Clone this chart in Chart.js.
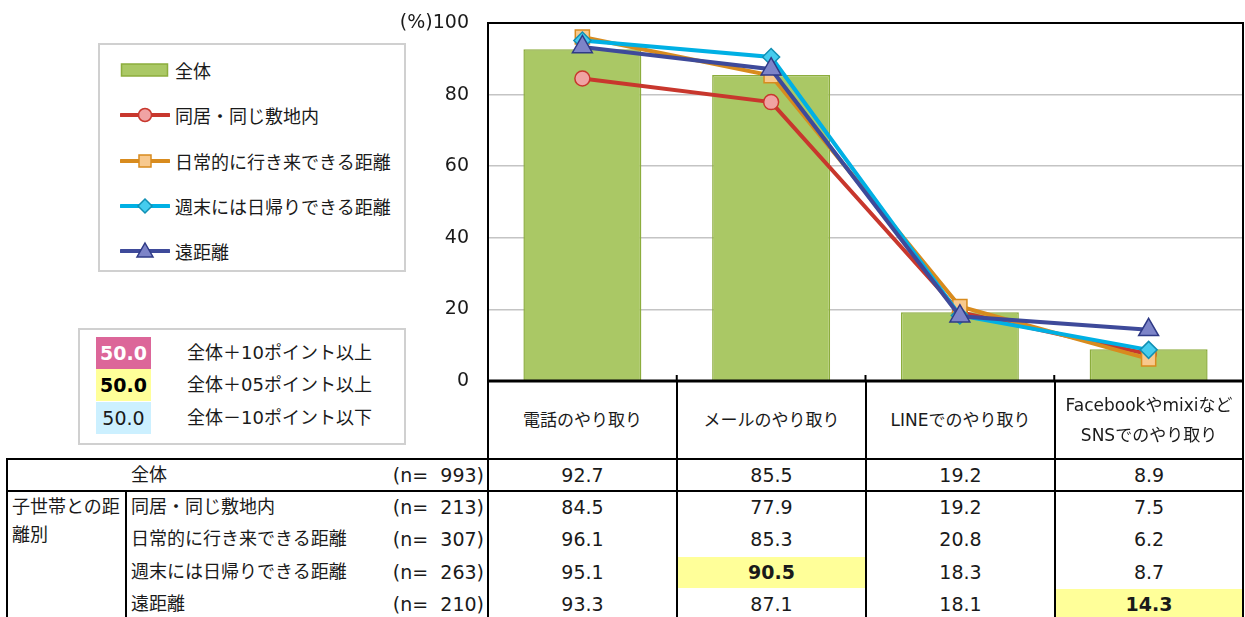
<!DOCTYPE html>
<html lang="ja">
<head>
<meta charset="utf-8">
<script src="https://cdn.jsdelivr.net/npm/chart.js@4.4.1/dist/chart.umd.min.js"></script>
<style>
  html, body { margin: 0; padding: 0; background: #fff; }
  body { width: 1245px; height: 617px; position: relative; overflow: hidden;
         font-family: "DejaVu Sans", "Noto Sans CJK JP", sans-serif; color: #1a1a1a; }
  #chart-wrap { position: absolute; left: 0; top: 0; width: 1245px; height: 400px; }
  .abs { position: absolute; }
  .ln { position: absolute; background: #000; }
  .jp { font-size: 18px; white-space: nowrap; }
  .num { font-size: 19px; white-space: pre; }
  .box { position: absolute; border: 2px solid #d0d0d0; box-sizing: border-box; background: #fff; }
  .leg-row { position: absolute; left: 20px; height: 24px; display: flex; align-items: center; }
  .leg-row span { margin-left: 5px; font-size: 18px; }
  .key { position: absolute; left: 16px; width: 55px; height: 32px; line-height: 32px; text-align: center; font-size: 19px; }
  .key-txt { position: absolute; left: 107px; font-size: 18px; line-height: 32px; white-space: nowrap; }
</style>
</head>
<body>
<div id="chart-wrap"><canvas id="chart-usage"></canvas></div>
<div id="overlay"></div>
<script>
const categories = ['電話のやり取り', 'メールのやり取り', 'LINEでのやり取り', ['Facebookやmixiなど', 'SNSでのやり取り']];
const seriesLabels = ['全体', '同居・同じ敷地内', '日常的に行き来できる距離', '週末には日帰りできる距離', '遠距離'];
const nValues = [993, 213, 307, 263, 210];
const overall = [92.7, 85.5, 19.2, 8.9];
const sameSite = [84.5, 77.9, 19.2, 7.5];
const dailyVisit = [96.1, 85.3, 20.8, 6.2];
const weekendTrip = [95.1, 90.5, 18.3, 8.7];
const farAway = [93.3, 87.1, 18.1, 14.3];
const yTicks = [0, 20, 40, 60, 80, 100];

const styles = [
    { line: '#C8372D', fill: '#F0A3A3', edge: '#C8372D', point: 'circle', radius: 7.5 },
    { line: '#D88B1E', fill: '#F8C98E', edge: '#D88B1E', point: 'rect', radius: 10 },
    { line: '#00B0E4', fill: '#45CCEE', edge: '#1190B4', point: 'rectRot', radius: 8.5 },
    { line: '#3E4A9A', fill: '#7D84C8', edge: '#2F3A86', point: 'triangle', radius: 11.5 },
];
const barFill = '#AAC865';
const barEdge = '#8CAD3D';
const lineSeries = [sameSite, dailyVisit, weekendTrip, farAway];

const framePlugin = {
    id: 'frame',
    afterDatasetsDraw(chart) {
        const { ctx, chartArea: a, scales } = chart;
        const y0 = scales.y.getPixelForValue(0);
        ctx.save();
        ctx.strokeStyle = '#000';
        ctx.lineWidth = 2;
        ctx.beginPath();
        ctx.moveTo(a.left - 1, a.top);
        ctx.lineTo(a.right, a.top);
        ctx.lineTo(a.right, y0);
        ctx.stroke();
        ctx.lineWidth = 3;
        ctx.beginPath();
        ctx.moveTo(a.left - 1, y0);
        ctx.lineTo(a.right + 1, y0);
        ctx.stroke();
        ctx.lineWidth = 2;
        for (let i = 0; i < categories.length - 1; i++) {
            const xb = (scales.x.getPixelForValue(i) + scales.x.getPixelForValue(i + 1)) / 2;
            ctx.beginPath();
            ctx.moveTo(xb, y0 - 6);
            ctx.lineTo(xb, y0);
            ctx.stroke();
        }
        ctx.restore();
    },
};

const datasets = lineSeries.map((data, i) => ({
    type: 'line',
    label: seriesLabels[i + 1],
    data,
    borderColor: styles[i].line,
    borderWidth: 4,
    tension: 0,
    pointStyle: styles[i].point,
    pointRadius: styles[i].radius,
    pointBackgroundColor: styles[i].fill,
    pointBorderColor: styles[i].edge,
    pointBorderWidth: 1.5,
    order: 4 - i,
}));
datasets.push({
    type: 'bar',
    label: seriesLabels[0],
    data: overall,
    backgroundColor: barFill,
    borderColor: barEdge,
    borderWidth: 1.5,
    barPercentage: 0.625,
    categoryPercentage: 1,
    order: 5,
});

new Chart(document.getElementById('chart-usage'), {
    type: 'bar',
    data: { labels: categories, datasets },
    options: {
        responsive: true,
        maintainAspectRatio: false,
        animation: false,
        layout: { autoPadding: false, padding: { top: 23, right: 2, bottom: 19, left: 0 } },
        plugins: { legend: { display: false }, tooltip: { enabled: false } },
        scales: {
            x: { display: false },
            y: {
                min: 0,
                max: 100,
                afterBuildTicks: (scale) => { scale.ticks = yTicks.map((v) => ({ value: v })); },
                afterFit: (scale) => { scale.width = 488; },
                ticks: {
                    padding: 0,
                    color: '#1a1a1a',
                    font: { family: 'DejaVu Sans', size: 19 },
                    callback: (v) => (v === 100 ? '(%)100' : v),
                },
                grid: {
                    drawTicks: true,
                    tickLength: 19,
                    tickColor: 'rgba(0,0,0,0)',
                    lineWidth: 1.5,
                    color: (c) => (c.tick && (c.tick.value === 0 || c.tick.value === 100) ? 'rgba(0,0,0,0)' : '#C4C4C4'),
                },
                border: { display: true, color: '#000', width: 2 },
            },
        },
    },
    plugins: [framePlugin],
});

// ---- legend, key and table (HTML) ----
const overlay = document.getElementById('overlay');
function add(html) { overlay.insertAdjacentHTML('beforeend', html); }
function hline(x1, x2, y, w) { add(`<div class="ln" style="left:${x1}px;top:${y - w / 2}px;width:${x2 - x1}px;height:${w}px"></div>`); }
function vline(x, y1, y2, w) { add(`<div class="ln" style="left:${x - w / 2}px;top:${y1}px;width:${w}px;height:${y2 - y1}px"></div>`); }

function symbolSvg(i) {
    if (i === 0) {
        return `<svg width="50" height="24"><rect x="1.5" y="6" width="46" height="12" fill="${barFill}" stroke="${barEdge}" stroke-width="1.5"/></svg>`;
    }
    const s = styles[i - 1];
    let mark = '';
    if (s.point === 'circle') mark = `<circle cx="25" cy="12" r="6.5" fill="${s.fill}" stroke="${s.edge}" stroke-width="1.5"/>`;
    if (s.point === 'rect') mark = `<rect x="19" y="6" width="12" height="12" fill="${s.fill}" stroke="${s.edge}" stroke-width="1.5"/>`;
    if (s.point === 'rectRot') mark = `<polygon points="25,5 32,12 25,19 18,12" fill="${s.fill}" stroke="${s.edge}" stroke-width="1.5"/>`;
    if (s.point === 'triangle') mark = `<polygon points="25,4 33,18 17,18" fill="${s.fill}" stroke="${s.edge}" stroke-width="1.5"/>`;
    return `<svg width="50" height="24"><line x1="1" y1="12" x2="49" y2="12" stroke="${s.line}" stroke-width="4" stroke-linecap="round"/>${mark}</svg>`;
}

let legendHtml = '<div class="box" style="left:98px;top:43px;width:308px;height:229px">';
seriesLabels.forEach((label, i) => {
    legendHtml += `<div class="leg-row" style="top:${13 + i * 45.3}px">${symbolSvg(i)}<span>${label}</span></div>`;
});
legendHtml += '</div>';
add(legendHtml);

const keyColors = [
    { bg: '#DC6699', color: '#fff', weight: 'bold', text: '全体＋10ポイント以上' },
    { bg: '#FFFF99', color: '#000', weight: 'bold', text: '全体＋05ポイント以上' },
    { bg: '#CCF0FF', color: '#1a1a1a', weight: 'normal', text: '全体－10ポイント以下' },
];
let keyHtml = '<div class="box" style="left:78px;top:328px;width:328px;height:117px">';
keyColors.forEach((k, i) => {
    keyHtml += `<div class="key" style="top:${7 + i * 32.3}px;background:${k.bg};color:${k.color};font-weight:${k.weight}">50.0</div>`;
    keyHtml += `<div class="key-txt" style="top:${7 + i * 32.3}px">${k.text}</div>`;
});
keyHtml += '</div>';
add(keyHtml);

const colX = [488, 677, 866, 1055, 1243];
const rowTop = [459, 491, 523.4, 555.8, 588.2, 620.6];

// header labels
categories.forEach((cat, c) => {
    const lines = Array.isArray(cat) ? cat : [cat];
    const h = lines.length * 30;
    add(`<div class="abs" style="left:${colX[c]}px;width:${colX[c + 1] - colX[c]}px;top:${420 - h / 2}px;text-align:center;font-size:17px;line-height:30px">${lines.join('<br>')}</div>`);
});

// highlight cells
const rowsData = [overall, sameSite, dailyVisit, weekendTrip, farAway];
rowsData.forEach((row, r) => {
    row.forEach((v, c) => {
        let bg = null, bold = false;
        if (r > 0) {
            const diff = Math.round((v - overall[c]) * 10) / 10;
            if (diff >= 10) { bg = keyColors[0].bg; bold = true; }
            else if (diff >= 5) { bg = keyColors[1].bg; bold = true; }
            else if (diff <= -10) { bg = keyColors[2].bg; }
        }
        const top = rowTop[r], h = rowTop[r + 1] - rowTop[r];
        if (bg) add(`<div class="abs" style="left:${colX[c] + 1}px;top:${top + 1}px;width:${colX[c + 1] - colX[c] - 2}px;height:${h - 1}px;background:${bg}"></div>`);
        add(`<div class="abs num" style="left:${colX[c]}px;width:${colX[c + 1] - colX[c]}px;top:${top}px;height:${h}px;line-height:${h}px;text-align:center;font-weight:${bold ? 'bold' : 'normal'}">${v.toFixed(1)}</div>`);
    });
    const top = rowTop[r], h = rowTop[r + 1] - rowTop[r];
    add(`<div class="abs jp" style="left:131px;top:${top}px;line-height:${h}px">${seriesLabels[r]}</div>`);
    add(`<div class="abs num" style="left:380px;width:104px;top:${top}px;line-height:${h}px;text-align:right">(n=  ${nValues[r]})</div>`);
});
add('<div class="abs" style="left:12px;top:493px;width:114px;font-size:18px;line-height:28px">子世帯との距離別</div>');

// table rules
hline(6, 1244, 459, 2);
hline(6, 1244, 491, 2.5);
vline(7, 458, 617, 2);
vline(126, 491, 617, 2);
vline(488, 381, 617, 2);
[677, 866, 1055].forEach((x) => vline(x, 381, 617, 2));
vline(1243, 381, 617, 2);
</script>
</body>
</html>
